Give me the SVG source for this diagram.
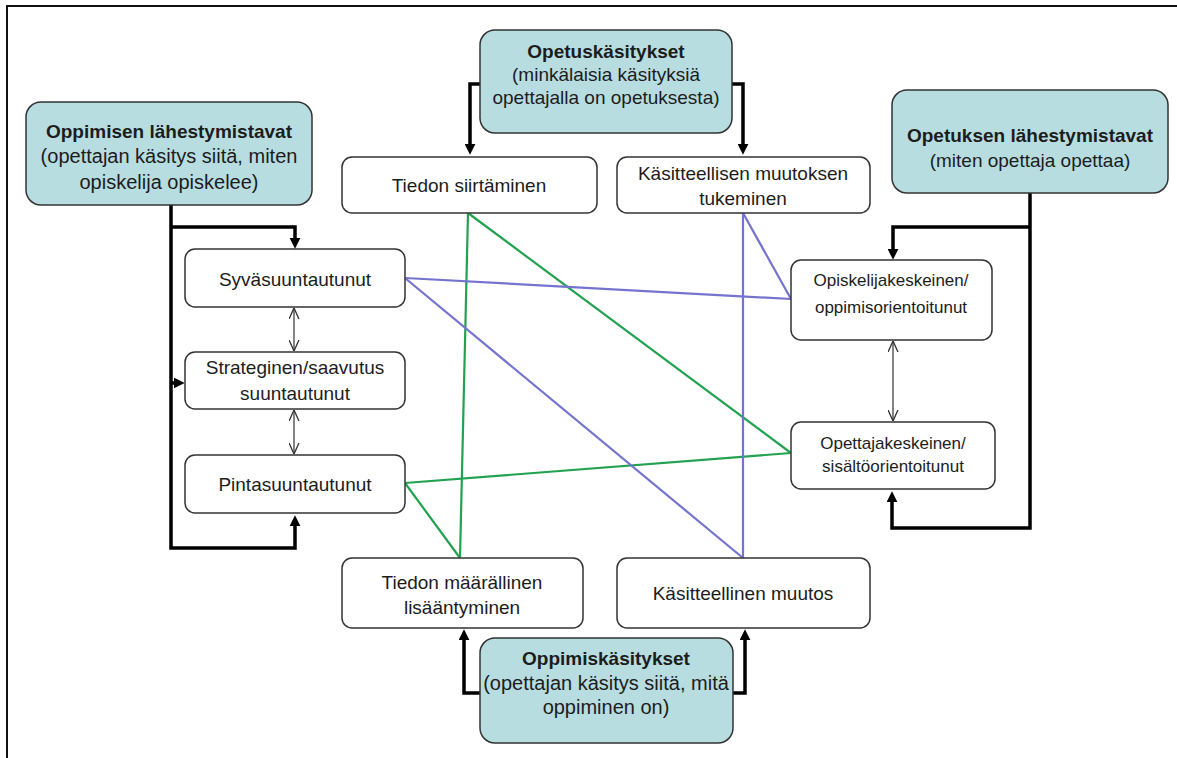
<svg xmlns="http://www.w3.org/2000/svg" width="1177" height="758" viewBox="0 0 1177 758">
<style>
  text { font-family: "Liberation Sans", Arial, sans-serif; font-size: 19px; fill: #1c1c1c; text-anchor: middle; }
  .b { font-weight: bold; }
  .s { font-size: 17px; }
  .w { font-size: 20px; }
  .teal { fill: #b8dde1; stroke: #333; stroke-width: 1.5; }
  .white { fill: #fff; stroke: #333; stroke-width: 1.5; }
  .heavy { fill: none; stroke: #000; stroke-width: 3.5; marker-end: url(#ah); }
  .thin { fill: none; stroke: #333; stroke-width: 1.2; marker-start: url(#dv); marker-end: url(#dv); }
  .green { fill: none; stroke: #22a150; stroke-width: 2.2; }
  .blue { fill: none; stroke: #7474cf; stroke-width: 2.2; }
</style>
<defs>
  <marker id="ah" viewBox="0 0 10 10" markerWidth="11" markerHeight="11" markerUnits="userSpaceOnUse" refX="3" refY="5" orient="auto">
    <path d="M0,0 L10,5 L0,10 z" fill="#000"/>
  </marker>
  <marker id="dv" viewBox="0 0 10 10" markerWidth="11" markerHeight="11" markerUnits="userSpaceOnUse" refX="10" refY="5" orient="auto-start-reverse">
    <path d="M0,0.5 L10,5 L0,9.5" fill="none" stroke="#333" stroke-width="1.2"/>
  </marker>
</defs>
<rect width="1177" height="758" fill="#fff"/>
<path d="M7,758 V6 H1177" fill="none" stroke="#111" stroke-width="2"/>

<g id="connectors">
  <path class="heavy" d="M171,205 V548 H295 V523"/>
  <path class="heavy" d="M171,227 H295 V241"/>
  <path class="heavy" d="M171,383 H177"/>
  <path class="heavy" d="M480,84 H470 V147"/>
  <path class="heavy" d="M732,84 H743 V147"/>
  <path class="heavy" d="M1030,193 V528 H892 V499"/>
  <path class="heavy" d="M1030,227 H893 V252"/>
  <path class="heavy" d="M480,693 H464 V637"/>
  <path class="heavy" d="M733,693 H745 V637"/>
  <path class="thin" d="M294,308 V351"/>
  <path class="thin" d="M294,410 V454"/>
  <path class="thin" d="M893,341 V421"/>
  <path class="green" d="M468,213 L460,558"/>
  <path class="green" d="M468,213 L791,453"/>
  <path class="green" d="M405,483 L791,453"/>
  <path class="green" d="M405,483 L460,558"/>
  <path class="blue" d="M405,278 L791,299"/>
  <path class="blue" d="M405,278 L743,558"/>
  <path class="blue" d="M743,213 L743,558"/>
  <path class="blue" d="M743,213 L791,299"/>
</g>

<g id="oppimisen-lahestymistavat">
  <rect class="teal" x="26" y="102" width="286" height="103" rx="15"/>
  <text class="b" x="169" y="138">Oppimisen lähestymistavat</text>
  <text class="w" x="169" y="163">(opettajan käsitys siitä, miten</text>
  <text class="w" x="169" y="189">opiskelija opiskelee)</text>
</g>
<g id="opetuskasitykset">
  <rect class="teal" x="480" y="30" width="252" height="103" rx="15"/>
  <text class="b" x="606" y="58">Opetuskäsitykset</text>
  <text x="606" y="81">(minkälaisia käsityksiä</text>
  <text x="606" y="104">opettajalla on opetuksesta)</text>
</g>
<g id="opetuksen-lahestymistavat">
  <rect class="teal" x="892" y="90" width="276" height="103" rx="15"/>
  <text class="b" x="1030" y="142">Opetuksen lähestymistavat</text>
  <text x="1030" y="167">(miten opettaja opettaa)</text>
</g>
<g id="oppimiskasitykset">
  <rect class="teal" x="480" y="638" width="253" height="105" rx="15"/>
  <text class="b" x="606" y="665">Oppimiskäsitykset</text>
  <text class="w" x="606" y="690">(opettajan käsitys siitä, mitä</text>
  <text class="w" x="606" y="714">oppiminen on)</text>
</g>
<g id="tiedon-siirtaminen">
  <rect class="white" x="342" y="157" width="255" height="56" rx="10"/>
  <text x="469" y="192">Tiedon siirtäminen</text>
</g>
<g id="kasitteellisen-muutoksen-tukeminen">
  <rect class="white" x="617" y="157" width="253" height="56" rx="10"/>
  <text x="743" y="180">Käsitteellisen muutoksen</text>
  <text x="743" y="205">tukeminen</text>
</g>
<g id="syvasuuntautunut">
  <rect class="white" x="185" y="249" width="220" height="58" rx="10"/>
  <text x="295" y="286">Syväsuuntautunut</text>
</g>
<g id="strateginen">
  <rect class="white" x="185" y="352" width="220" height="57" rx="10"/>
  <text x="295" y="374">Strateginen/saavutus</text>
  <text x="295" y="400">suuntautunut</text>
</g>
<g id="pintasuuntautunut">
  <rect class="white" x="185" y="455" width="220" height="58" rx="10"/>
  <text x="295" y="491">Pintasuuntautunut</text>
</g>
<g id="opiskelijakeskeinen">
  <rect class="white" x="791" y="260" width="201" height="80" rx="10"/>
  <text class="s" x="891" y="286">Opiskelijakeskeinen/</text>
  <text class="s" x="891" y="313">oppimisorientoitunut</text>
</g>
<g id="opettajakeskeinen">
  <rect class="white" x="791" y="422" width="204" height="67" rx="10"/>
  <text class="s" x="893" y="449">Opettajakeskeinen/</text>
  <text class="s" x="893" y="472">sisältöorientoitunut</text>
</g>
<g id="tiedon-maarallinen-lisaantyminen">
  <rect class="white" x="342" y="558" width="241" height="70" rx="10"/>
  <text x="462" y="589">Tiedon määrällinen</text>
  <text x="462" y="614">lisääntyminen</text>
</g>
<g id="kasitteellinen-muutos">
  <rect class="white" x="617" y="558" width="253" height="70" rx="10"/>
  <text x="743" y="600">Käsitteellinen muutos</text>
</g>
</svg>
